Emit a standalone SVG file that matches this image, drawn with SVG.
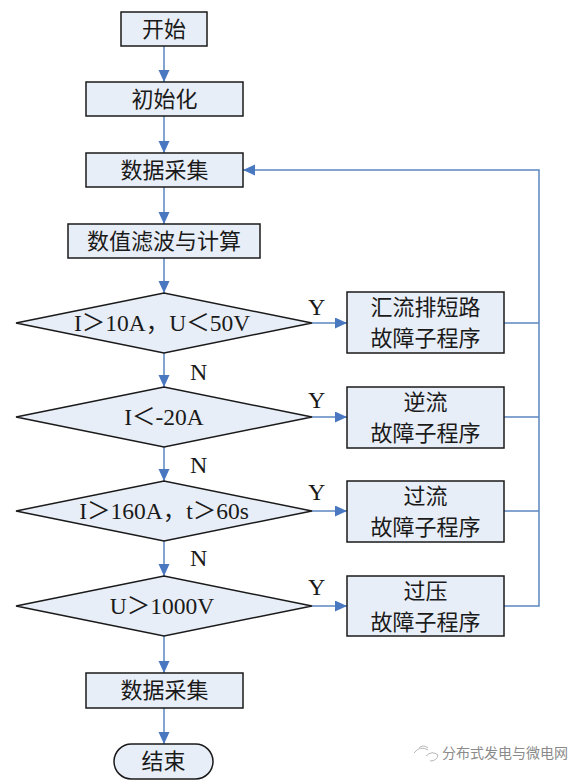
<svg xmlns="http://www.w3.org/2000/svg" width="586" height="782" viewBox="0 0 586 782">
<defs>
<style>
.box{fill:#e8eef7;stroke:#1a1a1a;stroke-width:1.5}
.t{font-family:"Liberation Serif","Noto Sans CJK SC",serif;font-size:22px;fill:#1a1a1a;text-anchor:middle}
.dt{font-size:23.5px}
.lbl{font-family:"Liberation Serif",serif;font-size:24px;fill:#1a1a1a}
.c{fill:none;stroke:#5b86c0;stroke-width:1.5}
.wm{font-family:"Noto Sans CJK SC",sans-serif;font-size:14px;fill:#8a8a8a}
</style>
<marker id="ah" markerUnits="userSpaceOnUse" markerWidth="13" markerHeight="12" refX="12" refY="5.5" orient="auto">
<path d="M0,0 L12,5.5 L0,11 z" fill="#4a78c0"/>
</marker>
</defs>
<rect width="586" height="782" fill="#ffffff"/>
<g id="connectors">
<line class="c" x1="164" y1="46" x2="164" y2="82" marker-end="url(#ah)"/>
<line class="c" x1="164" y1="116" x2="164" y2="153" marker-end="url(#ah)"/>
<line class="c" x1="164" y1="187" x2="164" y2="224" marker-end="url(#ah)"/>
<line class="c" x1="164" y1="258" x2="164" y2="293" marker-end="url(#ah)"/>
<line class="c" x1="164" y1="353" x2="164" y2="387" marker-end="url(#ah)"/>
<line class="c" x1="164" y1="447" x2="164" y2="481" marker-end="url(#ah)"/>
<line class="c" x1="164" y1="541" x2="164" y2="576" marker-end="url(#ah)"/>
<line class="c" x1="164" y1="636" x2="164" y2="673" marker-end="url(#ah)"/>
<line class="c" x1="164" y1="708" x2="164" y2="744" marker-end="url(#ah)"/>
<line class="c" x1="312" y1="323" x2="347" y2="323" marker-end="url(#ah)"/>
<line class="c" x1="312" y1="417" x2="347" y2="417" marker-end="url(#ah)"/>
<line class="c" x1="312" y1="511" x2="347" y2="511" marker-end="url(#ah)"/>
<line class="c" x1="312" y1="606" x2="347" y2="606" marker-end="url(#ah)"/>
<line class="c" x1="504" y1="323" x2="539" y2="323"/>
<line class="c" x1="504" y1="417" x2="539" y2="417"/>
<line class="c" x1="504" y1="511" x2="539" y2="511"/>
<polyline class="c" points="504,606 539,606 539,170 243,170" marker-end="url(#ah)"/>
<text class="lbl" x="308" y="315">Y</text>
<text class="lbl" x="308" y="408">Y</text>
<text class="lbl" x="308" y="500">Y</text>
<text class="lbl" x="308" y="595">Y</text>
<text class="lbl" x="190" y="380">N</text>
<text class="lbl" x="190" y="473">N</text>
<text class="lbl" x="190" y="566">N</text>
</g>
<g id="start">
<rect class="box" x="121" y="12" width="86" height="34"/>
<text class="t" x="164" y="37">开始</text>
</g>
<g id="init">
<rect class="box" x="86" y="82" width="157" height="34"/>
<text class="t" x="164.5" y="107">初始化</text>
</g>
<g id="collect1">
<rect class="box" x="86" y="153" width="157" height="34"/>
<text class="t" x="164.5" y="178">数据采集</text>
</g>
<g id="filter">
<rect class="box" x="68" y="224" width="192" height="34"/>
<text class="t" x="164" y="249">数值滤波与计算</text>
</g>
<g id="d1">
<polygon class="box" points="16,323 164,293 312,323 164,353"/>
<text class="t dt" x="162" y="331">I＞10A，U＜50V</text>
</g>
<g id="d2">
<polygon class="box" points="16,417 164,387 312,417 164,447"/>
<text class="t dt" x="164" y="425">I＜-20A</text>
</g>
<g id="d3">
<polygon class="box" points="16,511 164,481 312,511 164,541"/>
<text class="t dt" x="164" y="519">I＞160A，t＞60s</text>
</g>
<g id="d4">
<polygon class="box" points="16,606 164,576 312,606 164,636"/>
<text class="t dt" x="162" y="614">U＞1000V</text>
</g>
<g id="p1">
<rect class="box" x="347" y="292" width="157" height="61"/>
<text class="t" x="425.5" y="315">汇流排短路</text>
<text class="t" x="425.5" y="346">故障子程序</text>
</g>
<g id="p2">
<rect class="box" x="347" y="387" width="157" height="61"/>
<text class="t" x="425.5" y="410">逆流</text>
<text class="t" x="425.5" y="441">故障子程序</text>
</g>
<g id="p3">
<rect class="box" x="347" y="481" width="157" height="61"/>
<text class="t" x="425.5" y="504">过流</text>
<text class="t" x="425.5" y="535">故障子程序</text>
</g>
<g id="p4">
<rect class="box" x="347" y="576" width="157" height="60"/>
<text class="t" x="425.5" y="599">过压</text>
<text class="t" x="425.5" y="630">故障子程序</text>
</g>
<g id="collect2">
<rect class="box" x="86" y="673" width="157" height="35"/>
<text class="t" x="164.5" y="698">数据采集</text>
</g>
<g id="end">
<rect class="box" x="114" y="744" width="99" height="35" rx="17.5" ry="17.5"/>
<text class="t" x="163.5" y="769">结束</text>
</g>
<g id="watermark">
<path d="M414,753 q6,-8 14,-3 M419,748 q4,-4 9,0 M426,756 q6,-6 12,-1 q-1,6 -8,6" fill="none" stroke="#b8b8b8" stroke-width="1"/>
<text class="wm" x="442" y="758">分布式发电与微电网</text>
</g>
</svg>
